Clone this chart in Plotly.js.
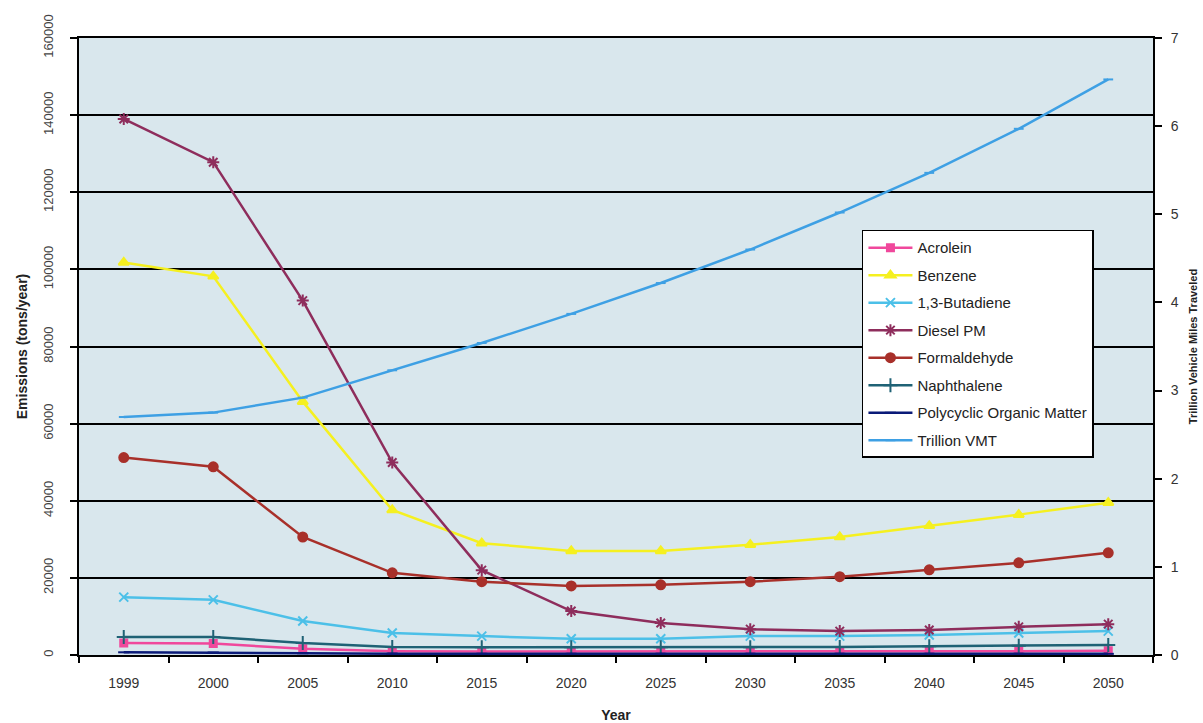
<!DOCTYPE html>
<html>
<head>
<meta charset="utf-8">
<script src="https://cdn.plot.ly/plotly-3.0.1.min.js"></script>
<style>html,body{margin:0;padding:0;background:#fff;}#chart{width:1203px;height:723px;}</style>
</head>
<body>
<div id="chart"></div>
<script>
const years = ["1999","2000","2005","2010","2015","2020","2025","2030","2035","2040","2045","2050"];
const acrolein = [3100,3000,1600,1000,900,900,900,900,900,1000,1000,1100];
const benzene = [101800,98200,65700,37600,29000,27000,27000,28600,30600,33500,36400,39500];
const butadiene = [15000,14300,8800,5700,4900,4200,4200,4900,4900,5200,5700,6200];
const dieselPM = [139000,127800,91900,49900,22000,11400,8300,6700,6200,6500,7300,8000];
const formaldehyde = [51200,48800,30600,21300,19000,17900,18200,19000,20300,22100,23900,26500];
const naphthalene = [4700,4700,3100,2100,2000,2000,2000,2000,2100,2300,2400,2600];
const pom = [700,650,450,350,300,300,300,300,300,300,300,300];
const trillionVMT = [2.70,2.75,2.92,3.23,3.54,3.87,4.22,4.60,5.02,5.47,5.97,6.53];

function tr(name, y, color, symbol, size, axis) {
  return {
    type: 'scatter', mode: 'lines+markers', name: name, x: years, y: y,
    yaxis: axis || 'y', legendgroup: name,
    line: {color: color, width: 2.5},
    marker: {color: color, symbol: symbol, size: size, line: {color: color, width: 2}}
  };
}

const data = [
  tr('Acrolein', acrolein, '#f0489c', 'square', 7),
  tr('Benzene', benzene, '#f5f020', 'triangle-up', 9),
  tr('1,3-Butadiene', butadiene, '#4cc0e8', 'x-thin', 9),
  tr('Diesel PM', dieselPM, '#8e2d5c', 'asterisk', 10),
  tr('Formaldehyde', formaldehyde, '#a8302a', 'circle', 9),
  tr('Naphthalene', naphthalene, '#1f6275', 'cross-thin', 10),
  tr('Polycyclic Organic Matter', pom, '#0a1a78', 'line-ew', 8),
  tr('Trillion VMT', trillionVMT, '#3ea0e4', 'line-ew', 7, 'y2')
];

const layout = {
  width: 1203, height: 723,
  paper_bgcolor: '#ffffff',
  plot_bgcolor: '#d9e7ed',
  margin: {l: 79, r: 50, t: 38, b: 68},
  font: {family: 'Liberation Sans, Arial, sans-serif', color: '#333'},
  showlegend: true,
  legend: {
    x: 0.729, y: 0.689, xanchor: 'left', yanchor: 'top',
    bgcolor: '#ffffff', bordercolor: '#000', borderwidth: 1.5,
    font: {size: 15, color: '#222'}, itemwidth: 44, tracegroupgap: 5,
    traceorder: 'grouped'
  },
  xaxis: {
    type: 'category', range: [-0.5, 11.5],
    tickson: 'boundaries', ticks: 'outside', ticklen: 6, tickcolor: '#000', tickwidth: 1.5,
    ticklabelstandoff: 14,
    showline: true, linecolor: '#000', linewidth: 2, mirror: true,
    showgrid: false, zeroline: false,
    tickfont: {size: 14, color: '#333'},
    title: {text: '<b>Year</b>', font: {size: 14, color: '#222'}, standoff: 22}
  },
  yaxis: {
    range: [0, 160000], dtick: 20000, tickangle: -90, tickformat: 'd',
    ticks: 'outside', ticklen: 7, tickcolor: '#000', tickwidth: 1.5, ticklabelstandoff: 12,
    showline: true, linecolor: '#000', linewidth: 2,
    showgrid: true, gridcolor: '#000', gridwidth: 2, zeroline: false,
    tickfont: {size: 13, color: '#444'},
    title: {text: '<b>Emissions (tons/year)</b>', font: {size: 14, color: '#222'}, standoff: 10}
  },
  yaxis2: {
    range: [0, 7], dtick: 1, overlaying: 'y', side: 'right',
    ticks: 'outside', ticklen: 7, tickcolor: '#000', tickwidth: 1.5, ticklabelstandoff: 6,
    showline: true, linecolor: '#000', linewidth: 2,
    showgrid: false, zeroline: false,
    tickfont: {size: 14, color: '#333'},
    title: {text: '<b>Trillion Vehicle Miles Traveled</b>', font: {size: 11, color: '#222'}, standoff: 12}
  }
};

Plotly.newPlot('chart', data, layout, {displayModeBar: false, responsive: false});
</script>
</body>
</html>
